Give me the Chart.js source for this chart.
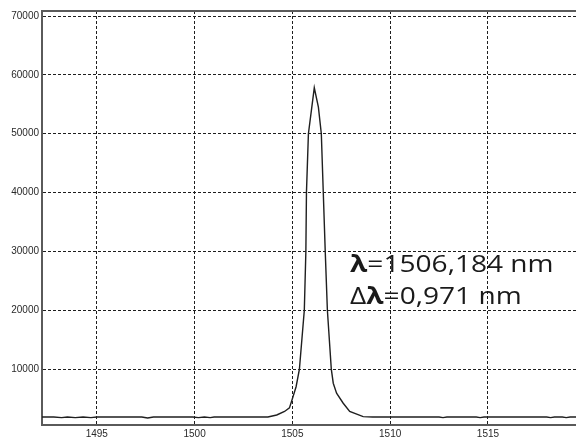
<!DOCTYPE html>
<html>
<head>
<meta charset="utf-8">
<script src="https://cdn.jsdelivr.net/npm/chart.js@4.4.1/dist/chart.umd.min.js"></script>
<style>
  html, body { margin: 0; padding: 0; background: #fff; }
  #wrap { position: relative; width: 576px; height: 438px; }
</style>
</head>
<body>
<div id="wrap"><canvas id="cvs" width="576" height="438"></canvas></div>
<script>
//-------------------------------------------------------------------
// data
//-------------------------------------------------------------------
const wavelength = [
  1492.2, 1492.8, 1493.2, 1493.5, 1493.9, 1494.3, 1494.7, 1495.0,
  1496.0, 1497.3, 1497.6, 1497.9, 1498.9, 1499.9, 1500.2, 1500.5,
  1500.8, 1501.0, 1502.0, 1503.1, 1503.75, 1504.2, 1504.6, 1504.85,
  1504.98, 1505.19, 1505.36, 1505.61, 1505.69, 1505.72, 1505.82, 1506.12,
  1506.33, 1506.48, 1506.58, 1506.68, 1506.79, 1506.99, 1507.09, 1507.26,
  1507.6, 1507.93, 1508.62, 1509.1, 1510.5, 1512.5, 1512.7, 1512.9,
  1514.4, 1514.6, 1514.8, 1516.5, 1518.0, 1518.2, 1518.4, 1518.8,
  1519.0, 1519.2, 1519.5
];
const intensity = [
  1850, 1850, 1750, 1850, 1750, 1850, 1750, 1850,
  1850, 1850, 1700, 1850, 1850, 1850, 1750, 1850,
  1750, 1850, 1850, 1850, 1850, 2200, 2800, 3400,
  4750, 7000, 10000, 20000, 30000, 40000, 50000, 57800,
  54500, 50000, 40000, 30000, 20000, 10000, 7600, 5900,
  4200, 2800, 1930, 1850, 1850, 1850, 1750, 1850,
  1850, 1750, 1850, 1850, 1850, 1750, 1850, 1850,
  1750, 1850, 1850
];

const xTicks = [1495, 1500, 1505, 1510, 1515];
const yTicks = [10000, 20000, 30000, 40000, 50000, 60000, 70000];

const peakLabel = ['λ', '=1506,184 nm'];
const widthLabel = ['Δ', 'λ', '=0,971 nm'];

//-------------------------------------------------------------------
// plugins
//-------------------------------------------------------------------
const frameTop = {
  id: 'frameTop',
  afterDraw(chart) {
    const a = chart.chartArea;
    const ctx = chart.ctx;
    ctx.save();
    ctx.strokeStyle = '#5a5a5a';
    ctx.lineWidth = 2;
    ctx.beginPath();
    ctx.moveTo(a.left, a.top);
    ctx.lineTo(a.right, a.top);
    ctx.stroke();
    ctx.restore();
  }
};

// draws one line of runs [text, bold] with a small horizontal stretch
function drawRuns(ctx, runs, x, y, size, stretch) {
  ctx.save();
  ctx.translate(x, y);
  ctx.scale(stretch, 1);
  let cx = 0;
  for (const r of runs) {
    ctx.font = (r[1] ? 'bold ' : '') + size + 'px "Open Sans"';
    ctx.fillText(r[0], cx, 0);
    cx += ctx.measureText(r[0]).width;
  }
  ctx.restore();
}

const annot = {
  id: 'annot',
  afterDraw(chart) {
    const ctx = chart.ctx;
    const xs = chart.scales.x;
    const x0 = xs.getPixelForValue(1507.95);
    ctx.save();
    ctx.fillStyle = '#1a1a1a';
    ctx.textBaseline = 'alphabetic';
    drawRuns(ctx, [[peakLabel[0], true], [peakLabel[1], false]], x0, 272, 24, 1.17);
    drawRuns(ctx, [[widthLabel[0], false], [widthLabel[1], true], [widthLabel[2], false]], x0, 304, 24, 1.17);
    ctx.restore();
  }
};

//-------------------------------------------------------------------
// chart
//-------------------------------------------------------------------
const points = wavelength.map((w, i) => ({ x: w, y: intensity[i] }));

const gridStyle = {
  color: '#1e1e1e',
  lineWidth: 1,
  drawTicks: false
};

const tickFont = { family: 'Liberation Sans', size: 10 };

new Chart(document.getElementById('cvs').getContext('2d'), {
  type: 'scatter',
  data: {
    datasets: [{
      data: points,
      showLine: true,
      borderColor: '#1f1f1f',
      borderWidth: 1.4,
      pointRadius: 0,
      tension: 0
    }]
  },
  options: {
    responsive: false,
    animation: false,
    layout: { padding: { top: 11, right: 0, left: 0, bottom: 0 } },
    plugins: {
      legend: { display: false },
      tooltip: { enabled: false }
    },
    scales: {
      x: {
        type: 'linear',
        min: 1492.2,
        max: 1519.5,
        afterBuildTicks(scale) {
          scale.ticks = xTicks.map(v => ({ value: v }));
        },
        afterFit(scale) { scale.height = 13; },
        grid: gridStyle,
        border: { display: true, color: '#5a5a5a', width: 2, dash: [3, 2] },
        ticks: {
          padding: 3,
          color: '#2a2a2a',
          font: tickFont,
          maxRotation: 0,
          callback: v => String(v)
        }
      },
      y: {
        type: 'linear',
        min: 500,
        max: 70850,
        afterBuildTicks(scale) {
          scale.ticks = yTicks.map(v => ({ value: v }));
        },
        afterFit(scale) { scale.width = 42; },
        grid: gridStyle,
        border: { display: true, color: '#5a5a5a', width: 2, dash: [3, 2] },
        ticks: {
          padding: 3,
          color: '#2a2a2a',
          font: tickFont,
          callback: v => String(v)
        }
      }
    }
  },
  plugins: [frameTop, annot]
});
</script>
</body>
</html>
